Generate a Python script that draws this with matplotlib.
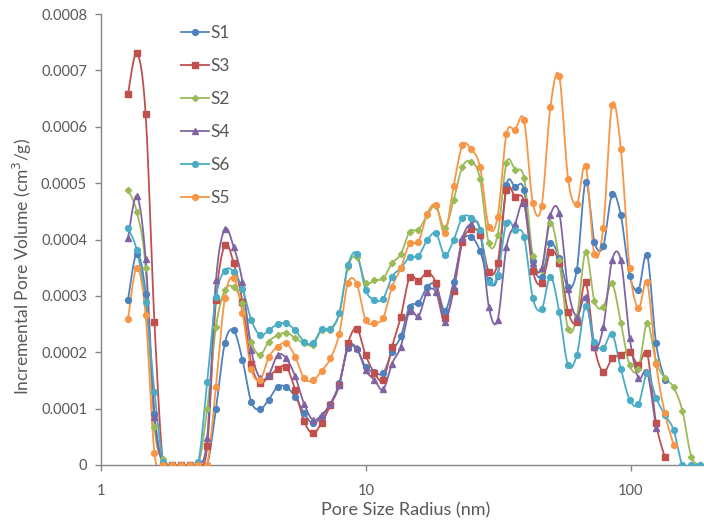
import matplotlib
matplotlib.use("Agg")
import matplotlib.pyplot as plt
import matplotlib.ticker as ticker
import numpy as np

# Pore radius bins (nm), shared by all samples
radius = [
    1.264, 1.365, 1.474, 1.591, 1.717, 1.853, 2.001, 2.160, 2.331, 2.516,
    2.716, 2.932, 3.165, 3.417, 3.688, 3.981, 4.297, 4.639, 5.008, 5.406,
    5.836, 6.300, 6.800, 7.341, 7.925, 8.554, 9.234, 9.966, 10.76, 11.61,
    12.54, 13.53, 14.61, 15.77, 17.02, 18.37, 19.83, 21.41, 23.11, 24.95,
    26.93, 29.07, 31.38, 33.88, 36.57, 39.47, 42.61, 45.99, 49.65, 53.60,
    57.86, 62.46, 67.42, 72.78, 78.56, 84.80, 91.55, 98.81, 106.7, 115.1,
    124.3, 134.2, 144.8, 156.3, 168.8, 182.2,
]

# Incremental pore volume, in units of 1e-4 cm3/g
s1 = [
    2.93, 3.75, 3.03, 0.90, 0, 0, 0, 0, 0, 0,
    1.00, 2.16, 2.39, 1.87, 1.12, 0.99, 1.16, 1.39, 1.38, 1.21,
    0.92, 0.74, 0.86, 1.08, 1.45, 2.07, 2.05, 1.74, 1.65, 1.63,
    2.01, 2.28, 2.81, 2.87, 3.16, 3.19, 2.74, 3.25, 3.96, 4.05,
    3.80, 3.28, 3.35, 4.96, 4.93, 4.88, 3.61, 3.34, 3.93, 3.68,
    3.15, 3.46, 5.02, 3.96, 3.88, 4.80, 4.43, 3.36, 3.11, 3.72,
    2.16, 1.51,
]
s3 = [
    6.58, 7.30, 6.22, 2.53, 0, 0, 0, 0, 0, 0.33,
    2.93, 3.90, 3.59, 2.90, 1.80, 1.46, 1.57, 1.70, 1.74, 1.33,
    0.78, 0.56, 0.75, 1.06, 1.42, 2.16, 2.42, 1.95, 1.63, 1.51,
    2.10, 2.63, 3.33, 3.27, 3.41, 3.23, 2.60, 3.09, 3.96, 4.18,
    4.08, 3.43, 3.58, 4.88, 4.76, 4.67, 3.45, 3.22, 3.78, 3.58,
    2.72, 2.54, 3.24, 2.10, 1.65, 1.89, 1.95, 2.01, 1.77, 1.98,
    0.74, 0.14,
]
s2 = [
    4.88, 4.49, 3.50, 0.68, 0.10, 0, 0, 0, 0, 1.00,
    2.45, 3.10, 3.15, 2.87, 2.19, 1.95, 2.19, 2.30, 2.35, 2.25,
    2.16, 2.13, 2.39, 2.39, 2.69, 3.52, 3.69, 3.23, 3.28, 3.31,
    3.58, 3.74, 4.14, 4.17, 4.43, 4.59, 4.20, 4.70, 5.29, 5.38,
    5.08, 3.93, 4.08, 5.36, 5.24, 5.09, 3.71, 3.46, 4.30, 3.63,
    2.41, 2.63, 3.78, 2.91, 2.80, 3.22, 2.52, 1.77, 1.71, 2.52,
    1.83, 1.54, 1.38, 0.96, 0.15, 0,
]
s4 = [
    4.02, 4.77, 3.65, 0.86, 0, 0, 0, 0, 0, 0.48,
    3.28, 4.18, 3.87, 3.25, 2.04, 1.54, 1.60, 1.95, 1.89, 1.57,
    1.09, 0.80, 0.89, 1.09, 1.42, 2.09, 2.07, 1.68, 1.51, 1.34,
    1.80, 2.10, 2.74, 2.64, 3.07, 3.07, 2.54, 3.16, 4.02, 4.28,
    4.17, 2.81, 2.57, 3.87, 4.28, 4.64, 3.59, 3.49, 4.43, 4.47,
    3.13, 2.63, 2.98, 2.10, 2.44, 3.63, 3.63, 2.26, 1.54, 1.65,
    0.65,
]
s6 = [
    4.20, 3.81, 2.90, 1.30, 0.05, 0, 0, 0, 0.05, 1.48,
    2.98, 3.45, 3.43, 3.13, 2.58, 2.30, 2.39, 2.50, 2.51, 2.39,
    2.19, 2.16, 2.41, 2.42, 2.69, 3.55, 3.75, 3.10, 2.93, 2.95,
    3.34, 3.49, 3.69, 3.71, 3.99, 4.11, 3.72, 3.99, 4.39, 4.39,
    4.17, 3.25, 3.37, 4.30, 4.17, 4.05, 2.96, 2.76, 3.34, 2.72,
    1.77, 1.95, 2.82, 2.19, 2.07, 2.33, 1.71, 1.16, 1.08, 1.63,
    1.19, 0.89, 0.62, 0, 0, 0,
]
s5 = [
    2.59, 3.50, 2.66, 0.21, 0, 0, 0, 0, 0, 0,
    1.39, 2.96, 3.32, 2.70, 1.71, 1.51, 1.91, 2.10, 2.16, 1.92,
    1.54, 1.50, 1.67, 1.89, 2.33, 3.23, 3.21, 2.57, 2.52, 2.61,
    3.16, 3.49, 3.93, 3.96, 4.46, 4.61, 4.11, 4.95, 5.67, 5.60,
    5.29, 4.23, 4.40, 5.87, 5.95, 6.12, 4.65, 4.59, 6.35, 6.90,
    5.08, 4.63, 5.31, 3.74, 4.20, 6.38, 5.61, 3.49, 2.78, 3.24,
    1.80, 0.92, 0.36,
]

labels = ["S1", "S3", "S2", "S4", "S6", "S5"]
series = [s1, s3, s2, s4, s6, s5]
colors = ["#4F81BD", "#C0504D", "#9BBB59", "#8064A2", "#4BACC6", "#F79646"]
markers = ["o", "s", "D", "^", "o", "o"]
msizes = [4.2, 4.2, 3.2, 4.6, 4.2, 4.2]


def smooth(x, y, n=14):
    """Catmull-Rom curve through the points, in log-x space."""
    pts = np.column_stack([np.log10(x), y])
    padded = np.vstack([pts[0], pts, pts[-1]])
    t = np.linspace(0, 1, n, endpoint=False)[:, None]
    out = []
    for k in range(len(pts) - 1):
        p0, p1, p2, p3 = padded[k:k + 4]
        seg = 0.5 * (2 * p1 + (p2 - p0) * t
                     + (2 * p0 - 5 * p1 + 4 * p2 - p3) * t ** 2
                     + (3 * p1 - p0 - 3 * p2 + p3) * t ** 3)
        out.append(seg)
    out.append(pts[-1:])
    arr = np.vstack(out)
    return 10 ** arr[:, 0], arr[:, 1]


plt.rcParams["font.family"] = ["Lato", "DejaVu Sans"]
text_col = "#595959"
axis_col = "#868686"

fig = plt.figure(figsize=(7.04, 5.21), dpi=100)
ax = fig.add_axes([101 / 704, 56 / 521, 603 / 704, 451 / 521])

for vals, lab, col, mk, ms in zip(series, labels, colors, markers, msizes):
    x = np.array(radius[:len(vals)])
    y = np.array(vals) * 1e-4
    sx, sy = smooth(x, y)
    ax.plot(sx, sy, color=col, lw=1.3, zorder=2)
    ax.plot(x, y, linestyle="none", marker=mk, markersize=ms,
            color=col, markeredgecolor=col, zorder=3)
    # legend proxy
    ax.plot([], [], color=col, lw=1.3, marker=mk, markersize=ms, label=lab)

ax.set_xscale("log")
ax.set_xlim(1, 10 ** (603 / 265))
ax.set_ylim(0, 0.0008)

ax.xaxis.set_major_locator(ticker.FixedLocator([1, 10, 100]))
ax.xaxis.set_major_formatter(ticker.FixedFormatter(["1", "10", "100"]))
ax.xaxis.set_minor_locator(ticker.NullLocator())
ax.yaxis.set_major_locator(ticker.MultipleLocator(0.0001))
ax.yaxis.set_major_formatter(
    ticker.FuncFormatter(lambda v, p: "0" if abs(v) < 1e-9 else f"{v:.4f}"))

for side in ("top", "right"):
    ax.spines[side].set_visible(False)
for side in ("left", "bottom"):
    ax.spines[side].set_color(axis_col)
    ax.spines[side].set_linewidth(1.0)

ax.tick_params(axis="both", colors=axis_col, labelcolor=text_col,
               labelsize=10.5, length=4, width=1.0, direction="out")
ax.tick_params(axis="x", pad=10)
ax.tick_params(axis="y", pad=6)

fig.text(406 / 704, 1 - 510 / 521, "Pore Size Radius (nm)", fontsize=13,
         color=text_col, ha="center", va="center")
fig.text(22 / 704, 1 - 267 / 521, "Incremental Pore Volume (cm$^3$/g)",
         fontsize=12.5, color=text_col, ha="center", va="center", rotation=90)

leg = ax.legend(loc="upper left", bbox_to_anchor=(181 / 704, 1 - 25 / 521),
                bbox_transform=fig.transFigure, frameon=False, fontsize=12.5,
                handlelength=1.6, handletextpad=0.1, labelspacing=0.98,
                borderpad=0, borderaxespad=0)
for txt in leg.get_texts():
    txt.set_color(text_col)

fig.savefig("out.png", dpi=100)
